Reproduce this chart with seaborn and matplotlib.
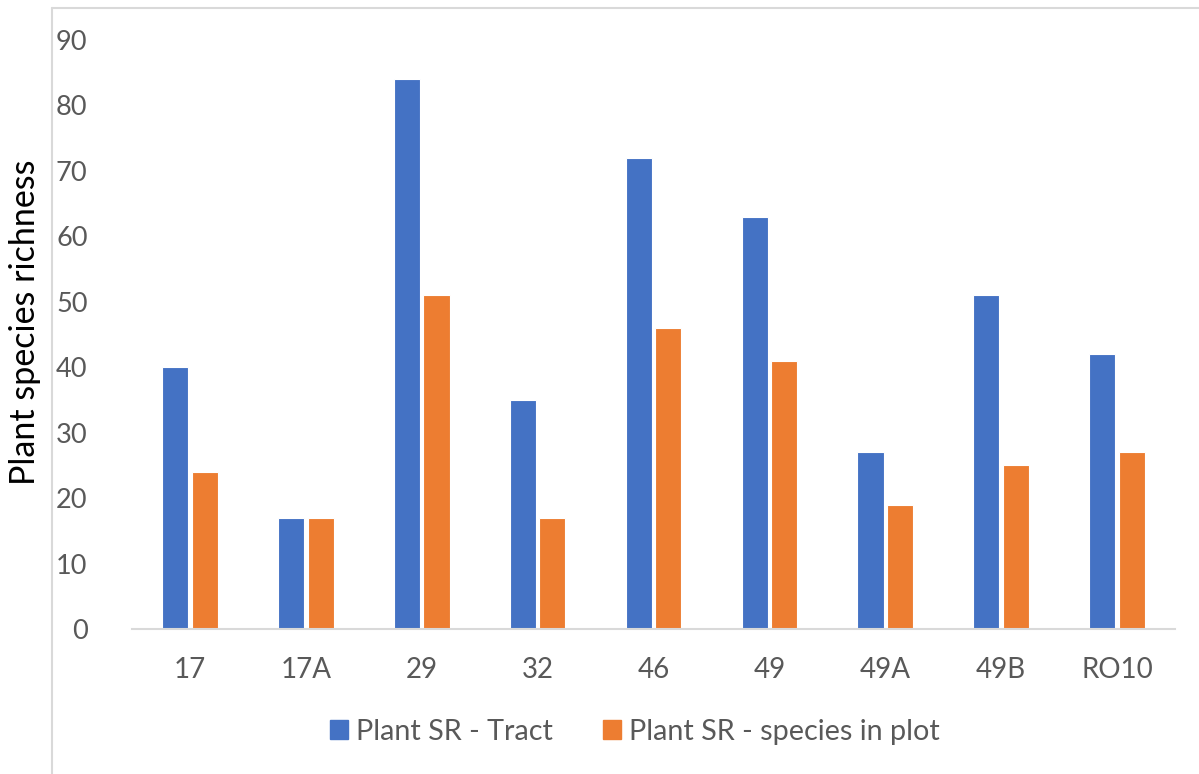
import matplotlib
matplotlib.use("Agg")
import matplotlib.pyplot as plt
from matplotlib.lines import Line2D
import seaborn as sns
import pandas as pd

# Plant species richness per site
sites = ["17", "17A", "29", "32", "46", "49", "49A", "49B", "RO10"]
tract_sr = [40, 17, 84, 35, 72, 63, 27, 51, 42]
plot_sr = [24, 17, 51, 17, 46, 41, 19, 25, 27]
series_names = ["Plant SR - Tract", "Plant SR - species in plot"]
yticks = [0, 10, 20, 30, 40, 50, 60, 70, 80, 90]

df = pd.DataFrame({
    "site": sites * 2,
    "richness": tract_sr + plot_sr,
    "series": [series_names[0]] * len(sites) + [series_names[1]] * len(sites),
})

sns.set_theme(style="white")
plt.rcParams["font.family"] = ["Lato", "DejaVu Sans"]

text_grey = "#595959"
palette = {series_names[0]: "#4472C4", series_names[1]: "#ED7D31"}

fig = plt.figure(figsize=(11.99, 7.74), dpi=100)
ax = fig.add_axes([132 / 1199, 145 / 774, (1175 - 132) / 1199, (629 - 40) / 774])

sns.barplot(data=df, x="site", y="richness", hue="series", order=sites,
            hue_order=series_names, palette=palette, width=0.51, gap=0.12,
            edgecolor="white", linewidth=0.8, saturation=1, ax=ax)

ax.set_ylim(0, 90)
ax.set_xlim(-0.5, len(sites) - 0.5)
ax.set_yticks(yticks)
ax.tick_params(axis="both", length=0, labelsize=19.5, colors=text_grey)
ax.tick_params(axis="x", labelsize=20, pad=20)
ax.tick_params(axis="y", pad=32)
ax.set_xlabel("")
ax.set_ylabel("")
for side in ["top", "right", "left"]:
    ax.spines[side].set_visible(False)
ax.spines["bottom"].set_color("#D9D9D9")
ax.spines["bottom"].set_linewidth(1.5)

fig.text(25 / 1199, 1 - 322 / 774, "Plant species richness",
         rotation=90, ha="center", va="center", fontsize=24.5, color="black")

# legend beneath the axis
ax.legend_.remove()
handles = [plt.Rectangle((0, 0), 1, 1, color=palette[s]) for s in series_names]
fig.legend(handles, series_names, loc="center", bbox_to_anchor=(635 / 1199, 1 - 732 / 774),
           ncol=2, frameon=False, fontsize=20.7, labelcolor=text_grey,
           handlelength=0.63, handleheight=0.63, handletextpad=0.28, columnspacing=1.74)

# chart border (left and top edges)
fig.add_artist(Line2D([52 / 1199, 52 / 1199], [0, 1 - 8 / 774], color="#D9D9D9", lw=1.5))
fig.add_artist(Line2D([52 / 1199, 1], [1 - 8 / 774, 1 - 8 / 774], color="#D9D9D9", lw=1.5))

fig.savefig("out.png", dpi=100, facecolor="white")
